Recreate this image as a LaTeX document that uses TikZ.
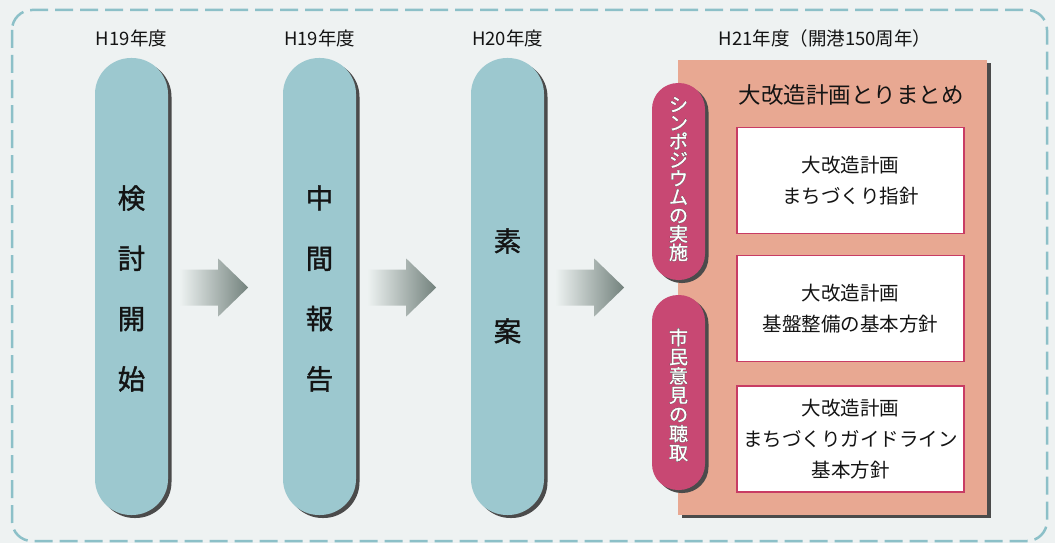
\documentclass[tikz,border=0pt]{standalone}
\usepackage{fontspec}
\newfontfamily\jp{Noto Sans CJK JP}
\newfontfamily\jpm[FakeBold=1.3]{Noto Sans CJK JP}
\newfontfamily\jpo[FakeBold=4]{Noto Sans CJK JP}
\usetikzlibrary{calc,shadows}
\definecolor{bgc}{RGB}{238,242,242}
\definecolor{dashc}{RGB}{140,192,200}
\definecolor{pillc}{RGB}{156,200,207}
\definecolor{salmon}{RGB}{232,168,146}
\definecolor{pinkc}{RGB}{200,72,115}
\definecolor{boxline}{RGB}{200,60,100}
\definecolor{shc}{RGB}{75,75,75}
\definecolor{arrL}{RGB}{236,241,240}
\definecolor{arrR}{RGB}{115,130,125}
\definecolor{txt}{RGB}{20,20,20}
\tikzset{
  shd/.style={drop shadow={shadow xshift=3.5pt, shadow yshift=-3pt, opacity=1, fill=shc}},
  tpill/.style={rectangle, rounded corners=36pt, minimum width=73pt, minimum height=457pt,
    fill=pillc, inner sep=0pt, align=center, text=txt, shd},
  ppill/.style={rectangle, rounded corners=26pt, minimum width=53pt,
    fill=pinkc, inner sep=0pt, shd},
  pptext/.style={inner sep=0pt, align=center},
  yearlbl/.style={font=\jp\fontsize{18.5}{22}\selectfont, text=txt, inner sep=0pt},
  wbox/.style={rectangle, draw=boxline, line width=1.2pt, fill=white, minimum width=227pt,
    minimum height=106pt, inner sep=0pt, align=center, text=txt,
    font=\jp\fontsize{19.5}{31}\selectfont},
}
\newcommand\blockarrow[1]{%
  \shade[left color=arrL, right color=arrR]
    ($(#1)+(12,-17)$) -- ++(38,0) -- ++(0,-11) -- ++(30,29) -- ++(-30,29) -- ++(0,-11) -- ++(-38,0) -- cycle;}
\begin{document}
\begin{tikzpicture}[x=1pt,y=-1pt]
\useasboundingbox (0,0) rectangle (1055,543);
\fill[bgc] (0,0) rectangle (1055,543);
\draw[dashc, line width=2.5pt, dash pattern=on 18pt off 7pt, rounded corners=20pt] (12,10) rectangle (1047,541);

% year labels
\node[yearlbl] (y1) at (131.5,38) {H19年度};
\node[yearlbl] (y2) at (319.5,38) {H19年度};
\node[yearlbl] (y3) at (507.5,38) {H20年度};
\node[yearlbl] (y4) at (825,38) {H21年度（開港150周年）};

% pills
\node[tpill] (p1) at (131.5,286.5) {};
\node[tpill] (p2) at (319.5,286.5) {};
\node[tpill] (p3) at (507.5,286.5) {};
\node[pptext, text=txt, font=\jpm\fontsize{27.5}{60.3}\selectfont] (t1) at (p1 |- 0,288.5) {検\\討\\開\\始};
\node[pptext, text=txt, font=\jpm\fontsize{27.5}{60.3}\selectfont] (t2) at (p2 |- 0,288.5) {中\\間\\報\\告};
\node[pptext, text=txt, font=\jpm\fontsize{27.5}{90}\selectfont] (t3) at (p3 |- 0,286) {素\\案};

% arrows
\blockarrow{p1.east}
\blockarrow{p2.east}
\blockarrow{p3.east}

% big box
\node[rectangle, fill=salmon, minimum width=309pt, minimum height=455pt, inner sep=0pt, shd] (big) at (832.5,287.5) {};
\node[font=\jp\fontsize{22.5}{26}\selectfont, text=txt, inner sep=0pt] (title) at (851,95) {大改造計画とりまとめ};

\node[wbox] (b1) at (850.5,180.5) {大改造計画\\まちづくり指針};
\node[wbox] (b2) at (850.5,308.5) {大改造計画\\基盤整備の基本方針};
\node[wbox] (b3) at (850.5,439) {大改造計画\\まちづくりガイドライン\\基本方針};

% pink pills
\node[ppill, minimum height=197pt] (s1) at (678.5,181.5) {};
\node[ppill, minimum height=195pt] (s2) at (678.5,392.5) {};
\node[pptext, text=shc, font=\jpo\fontsize{19}{18.5}\selectfont] (s1o) at (678.5,179) {シ\\ン\\ポ\\ジ\\ウ\\ム\\の\\実\\施};
\node[pptext, text=white, font=\jpm\fontsize{19}{18.5}\selectfont] (s1t) at (678.5,179) {シ\\ン\\ポ\\ジ\\ウ\\ム\\の\\実\\施};
\node[pptext, text=shc, font=\jpo\fontsize{19}{19.2}\selectfont] (s2o) at (678.5,395) {市\\民\\意\\見\\の\\聴\\取};
\node[pptext, text=white, font=\jpm\fontsize{19}{19.2}\selectfont] (s2t) at (678.5,395) {市\\民\\意\\見\\の\\聴\\取};
\end{tikzpicture}
\end{document}
